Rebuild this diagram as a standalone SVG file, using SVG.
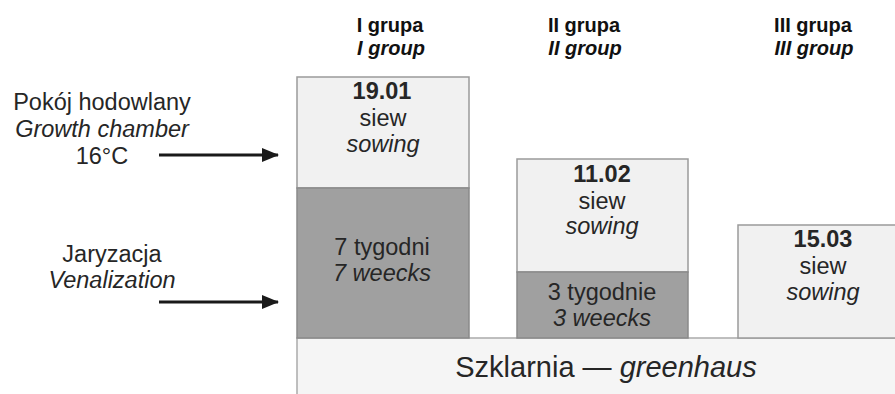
<svg xmlns="http://www.w3.org/2000/svg" width="895" height="394" viewBox="0 0 895 394">
<style>
text{font-family:"Liberation Sans",Arial,sans-serif;fill:#262626;text-anchor:middle}
.h{font-size:20px;font-weight:bold;fill:#111}
.t{font-size:23.5px}
.l{font-size:23.5px}
.b{font-weight:bold}
.i{font-style:italic}
.light{fill:#f1f1f1;stroke:#9a9a9a;stroke-width:1.5}
.dark{fill:#a0a0a0;stroke:#8a8a8a;stroke-width:1.5}
.arr{stroke:#1a1a1a;stroke-width:3;fill:none}
</style>
<defs>
<marker id="ah" markerWidth="17" markerHeight="14" refX="16" refY="7" orient="auto" markerUnits="userSpaceOnUse">
<path d="M0,0 L17,7 L0,14 Z" fill="#1a1a1a"/>
</marker>
</defs>
<g id="greenhouse">
<rect x="297" y="338" width="610" height="60" fill="#f5f5f5" stroke="#aaa" stroke-width="1.5"/>
<text x="606" y="377" style="font-size:29px">Szklarnia — <tspan class="i">greenhaus</tspan></text>
</g>
<g id="group1">
<text class="h" x="390" y="32">I grupa</text>
<text class="h i" x="391" y="55">I group</text>
<rect class="light" x="297" y="77" width="172" height="111"/>
<text class="t b" x="382" y="99">19.01</text>
<text class="t" x="383" y="126">siew</text>
<text class="t i" x="383" y="152">sowing</text>
<rect class="dark" x="297" y="188" width="172" height="150"/>
<text class="t" x="382" y="255">7 tygodni</text>
<text class="t i" x="382" y="281">7 weecks</text>
</g>
<g id="group2">
<text class="h" x="584" y="32">II grupa</text>
<text class="h i" x="585" y="55">II group</text>
<rect class="light" x="517" y="159" width="171" height="113"/>
<text class="t b" x="602" y="182">11.02</text>
<text class="t" x="602" y="209">siew</text>
<text class="t i" x="602" y="234">sowing</text>
<rect class="dark" x="517" y="272" width="171" height="66"/>
<text class="t" x="602" y="300">3 tygodnie</text>
<text class="t i" x="602" y="326">3 weecks</text>
</g>
<g id="group3">
<text class="h" x="813" y="32">III grupa</text>
<text class="h i" x="814" y="55">III group</text>
<rect class="light" x="738" y="225" width="170" height="113"/>
<text class="t b" x="823" y="247">15.03</text>
<text class="t" x="823" y="274">siew</text>
<text class="t i" x="823" y="300">sowing</text>
</g>
<g id="chamber">
<text class="l" x="102" y="110">Pokój hodowlany</text>
<text class="l i" x="102" y="137">Growth chamber</text>
<text class="l" x="102" y="164">16°C</text>
</g>
<g id="vernal">
<text class="l" x="112" y="262">Jaryzacja</text>
<text class="l i" x="112" y="288">Venalization</text>
</g>
<g id="connectors">
<line class="arr" x1="159" y1="155" x2="278" y2="155" marker-end="url(#ah)"/>
<line class="arr" x1="159" y1="302" x2="278" y2="302" marker-end="url(#ah)"/>
</g>
</svg>
